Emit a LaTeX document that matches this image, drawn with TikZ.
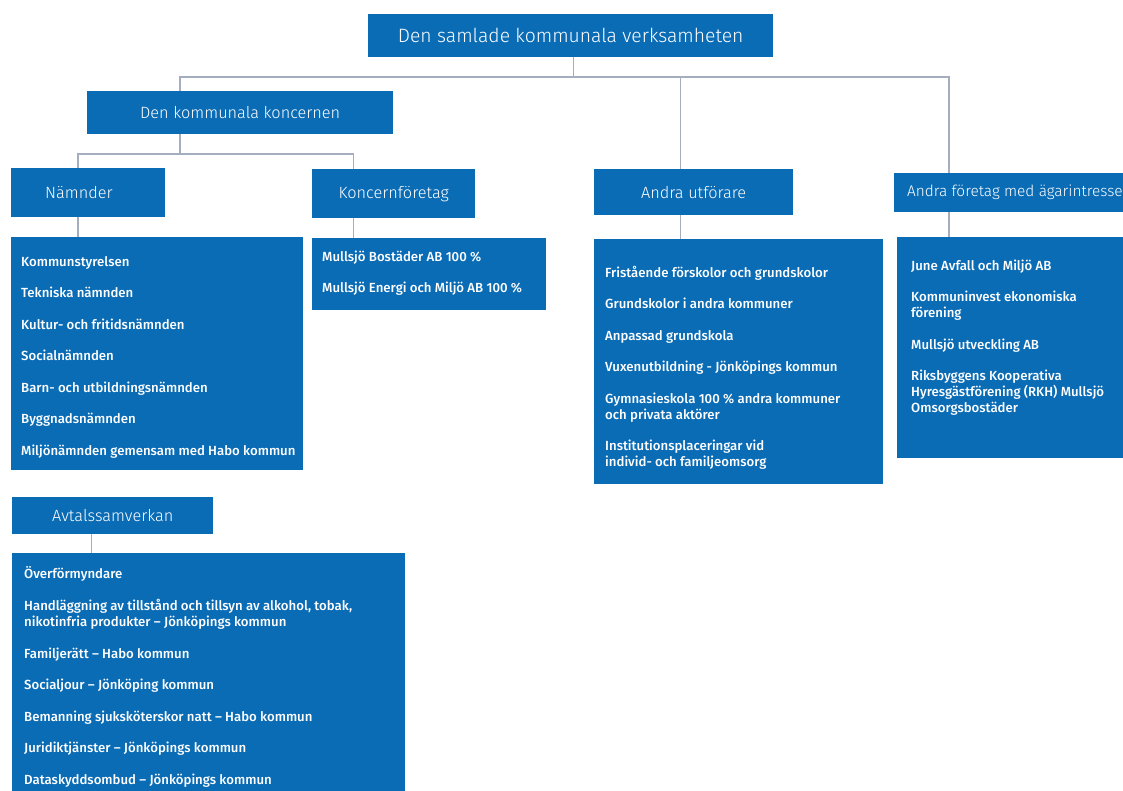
\documentclass[tikz,border=0pt]{standalone}
\usepackage{fontspec}
\setmainfont{Fira Sans}
\newfontfamily\headfont{Fira Sans Light}
\newfontfamily\itemfont{Fira Sans Medium}
\usepackage{tikz}
\usetikzlibrary{positioning, calc}

\definecolor{orgblue}{HTML}{0B6CB6}
\definecolor{linkgray}{HTML}{A4AEBE}

\begin{document}
\begin{tikzpicture}[
    x=1pt, y=-1pt,
    head/.style={rectangle, fill=orgblue, text=white, anchor=north west, inner sep=0pt, font=\headfont\fontsize{16.3}{20}\selectfont},
    listbox/.style={rectangle, fill=orgblue, anchor=north west, inner sep=0pt},
    items/.style={anchor=north west, align=left, inner sep=0pt, text=white, font=\itemfont\fontsize{13.2}{16}\selectfont},
    link/.style={draw=linkgray, line width=1.5pt}
]
\useasboundingbox (0,0) rectangle (1123,791);

% Headings
\node[head, minimum width=405, minimum height=43, font=\headfont\fontsize{19.3}{24}\selectfont] (top) at (368,14) {Den samlade kommunala verksamheten};
\node[head, minimum width=306, minimum height=43] (koncern) at (87,91) {Den kommunala koncernen};
\node[head, minimum width=154, minimum height=49, text width=140, align=left, inner xsep=0pt] (namnder) at (11,168) {\hspace*{27pt}Nämnder};
\node[head, minimum width=163, minimum height=49] (koncfor) at (312,169) {Koncernföretag};
\node[head, minimum width=199, minimum height=46] (utforare) at (594,169) {Andra utförare};
\node[head, minimum height=39, inner xsep=13, font=\headfont\fontsize{15.4}{18}\selectfont] (foretag) at (894,173) {Andra företag med ägarintresse};
\node[head, minimum width=201, minimum height=37] (avtal) at (12,497) {Avtalssamverkan};

% List boxes
\node[listbox, minimum width=292, minimum height=233] (namlist) at (11,237) {};
\node[listbox, minimum width=234, minimum height=72] (konclist) at (312,238) {};
\node[listbox, minimum width=289, minimum height=245] (utflist) at (594,239) {};
\node[listbox, minimum width=240, minimum height=221] (forlist) at (897,237) {};
\node[listbox, minimum width=393, minimum height=260] (avtlist) at (12,553) {};

% List texts
\node[items] (namtext) at ([shift={(10,17.8)}]namlist.north west) {\strut Kommunstyrelsen\\[15.5pt]
  Tekniska nämnden\\[15.5pt]
  Kultur- och fritidsnämnden\\[15.5pt]
  Socialnämnden\\[15.5pt]
  Barn- och utbildningsnämnden\\[15.5pt]
  Byggnadsnämnden\\[15.5pt]
  Miljönämnden gemensam med Habo kommun};
\node[items] (konctext) at ([shift={(10,11.8)}]konclist.north west) {\strut Mullsjö Bostäder AB 100 \%\\[15.5pt]
  Mullsjö Energi och Miljö AB 100 \%};
\node[items] (utftext) at ([shift={(11,26.8)}]utflist.north west) {\strut Fristående förskolor och grundskolor\\[15.5pt]
  Grundskolor i andra kommuner\\[15.5pt]
  Anpassad grundskola\\[15.5pt]
  Vuxenutbildning - Jönköpings kommun\\[15.5pt]
  Gymnasieskola 100 \% andra kommuner\\och privata aktörer\\[15.5pt]
  Institutionsplaceringar vid\\individ- och familjeomsorg};
\node[items] (fortext) at ([shift={(14,21.8)}]forlist.north west) {\strut June Avfall och Miljö AB\\[15.5pt]
  Kommuninvest ekonomiska\\förening\\[15.5pt]
  Mullsjö utveckling AB\\[15.5pt]
  Riksbyggens Kooperativa\\Hyresgästförening (RKH) Mullsjö\\Omsorgsbostäder};
\node[items] (avttext) at ([shift={(12,12.8)}]avtlist.north west) {\strut Överförmyndare\\[15.5pt]
  Handläggning av tillstånd och tillsyn av alkohol, tobak,\\nikotinfria produkter – Jönköpings kommun\\[15.5pt]
  Familjerätt – Habo kommun\\[15.5pt]
  Socialjour – Jönköping kommun\\[15.5pt]
  Bemanning sjuksköterskor natt – Habo kommun\\[15.5pt]
  Juridiktjänster – Jönköpings kommun\\[15.5pt]
  Dataskyddsombud – Jönköpings kommun};

% Connectors
\coordinate (bar) at ([xshift=3]top.south |- 0,77);
\coordinate (kbar) at ([xshift=-60]koncern.south |- 0,154);
\draw[link] ([xshift=3]top.south) -- (bar);
\draw[link] ([xshift=-60]koncern.north) |- (bar) -| ([xshift=55]foretag.north west);
\draw[link] ([xshift=-13]utforare.north) -- ([xshift=-13]utforare.north |- bar);
\draw[link] ([xshift=-60]koncern.south) -- (kbar);
\draw[link] ([xshift=-10]namnder.north) |- (kbar) -| ([xshift=-40]koncfor.north);
\draw[link] ([xshift=-10]namnder.south) -- ([xshift=-10]namnder.south |- namlist.north);
\draw[link] ([xshift=-40]koncfor.south) -- ([xshift=-40]koncfor.south |- konclist.north);
\draw[link] ([xshift=-13]utforare.south) -- ([xshift=-13]utforare.south |- utflist.north);
\draw[link] ([xshift=55]foretag.south west) -- ([xshift=55]foretag.south west |- forlist.north);
\draw[link] ([xshift=-21]avtal.south) -- ([xshift=-21]avtal.south |- avtlist.north);
\end{tikzpicture}
\end{document}
